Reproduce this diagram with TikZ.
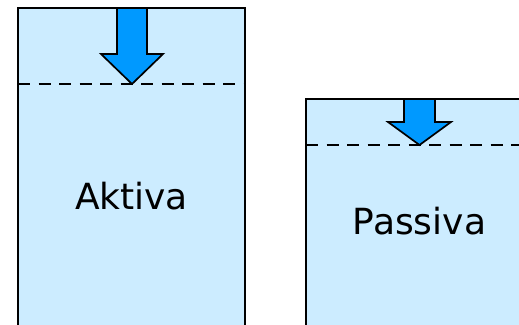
\documentclass[tikz,border=0pt]{standalone}
\usepackage{fontspec}
\setmainfont{DejaVu Sans}
\definecolor{boxfill}{HTML}{CCECFF}
\definecolor{arrowfill}{HTML}{0099FF}
\tikzset{
  account/.style={fill=boxfill, draw=black, line width=2pt},
  cutline/.style={draw=black, line width=1.8pt, dash pattern=on 12pt off 8.5pt},
  downarrow/.style={fill=arrowfill, draw=black, line width=1.7pt, line join=miter},
  caption/.style={font=\fontsize{36}{40}\selectfont, anchor=base, inner sep=0pt}
}
\begin{document}
\begin{tikzpicture}[x=1pt, y=-1pt]
  \useasboundingbox (0,0) rectangle (519,324);
  \clip (0,0) rectangle (519,324);
  % assets column
  \path[account] (18,8) rectangle (245,335);
  \draw[cutline] (18,84) -- (245,84);
  \path[downarrow] (117,8) -- (147,8) -- (147,54) -- (163,54) -- (132,84)
        -- (101,54) -- (117,54) -- cycle;
  \node[caption] (aktiva) at (131.5,209) {Aktiva};
  % liabilities column
  \path[account] (306,99) rectangle (530,335);
  \draw[cutline] (306,145) -- (519,145);
  \path[downarrow] (404,99) -- (435,99) -- (435,122) -- (451,122) -- (419.5,145)
        -- (388,122) -- (404,122) -- cycle;
  \node[caption] (passiva) at (419.5,234) {Passiva};
\end{tikzpicture}
\end{document}
